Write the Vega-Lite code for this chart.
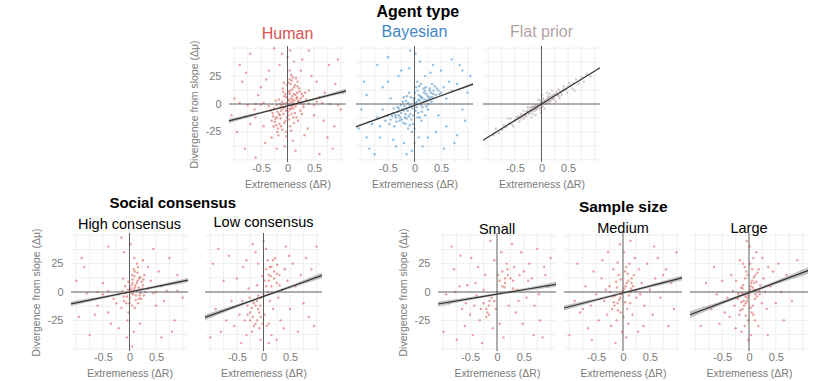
{
"$schema": "https://vega.github.io/schema/vega-lite/v6.json",
"padding": {"left": 31, "top": 3, "right": 5, "bottom": 0},
"background": "white",
"config": {
 "view": {"stroke": null},
 "font": "Liberation Sans",
 "title": {"font": "Liberation Sans", "fontSize": 16, "fontWeight": "bold", "color": "#000000", "anchor": "middle", "offset": 4},
 "axis": {"domain": false, "ticks": false, "tickSize": 0, "grid": false, "labelOverlap": false, "labelColor": "#7a7a7a", "labelFontSize": 11, "labelFont": "Liberation Sans", "titleColor": "#7a7a7a", "titleFontSize": 10.5, "titleFont": "Liberation Sans", "titleFontWeight": "normal", "titlePadding": 6},
 "axisX": {"labelPadding": 0},
 "axisY": {"labelPadding": 8}
},
"datasets": {
 "gx": [{"v":-1},{"v":-0.75},{"v":-0.5},{"v":-0.25},{"v":0.25},{"v":0.5},{"v":0.75},{"v":1}],
 "gy": [{"v":-50},{"v":-37.5},{"v":-25},{"v":-12.5},{"v":12.5},{"v":25},{"v":37.5},{"v":50}],
 "H": [{"x":-0.02,"y":1},{"x":-0.05,"y":-3},{"x":0.1,"y":4},{"x":0.15,"y":8},{"x":-0.12,"y":-6},{"x":0.05,"y":12},{"x":0.2,"y":2},{"x":-0.2,"y":-12},{"x":0.08,"y":-2},{"x":-0.02,"y":6},
 {"x":0.12,"y":15},{"x":-0.15,"y":-18},{"x":0.25,"y":5},{"x":-0.08,"y":-9},{"x":0.03,"y":-14},{"x":0.18,"y":10},{"x":-0.25,"y":-4},{"x":0.06,"y":18},{"x":-0.1,"y":2},{"x":0.3,"y":-3},
 {"x":-0.3,"y":-15},{"x":0.14,"y":-8},{"x":-0.04,"y":9},{"x":0.22,"y":14},{"x":-0.18,"y":-22},{"x":0.0,"y":-1},{"x":0.09,"y":7},{"x":-0.06,"y":-17},{"x":0.16,"y":0},{"x":-0.22,"y":3},
 {"x":0.04,"y":22},{"x":-0.14,"y":-10},{"x":0.27,"y":9},{"x":-0.03,"y":-25},{"x":0.11,"y":-12},{"x":-0.28,"y":-8},{"x":0.19,"y":20},{"x":-0.09,"y":14},{"x":0.01,"y":-7},{"x":0.35,"y":4},
 {"x":-0.35,"y":-2},{"x":0.07,"y":26},{"x":-0.17,"y":-28},{"x":0.24,"y":-6},{"x":-0.01,"y":17},{"x":0.13,"y":3},{"x":-0.24,"y":-16},{"x":0.05,"y":-20},{"x":0.2,"y":-15},{"x":-0.11,"y":-1},
 {"x":0.02,"y":3},{"x":0.06,"y":-4},{"x":-0.07,"y":0},{"x":0.1,"y":1},{"x":0.17,"y":5},{"x":-0.19,"y":-7},{"x":0.04,"y":9},{"x":-0.13,"y":-13},{"x":0.23,"y":11},{"x":0.08,"y":-9},
 {"x":0.01,"y":4},{"x":-0.03,"y":-6},{"x":0.07,"y":2},{"x":0.12,"y":9},{"x":-0.09,"y":-4},{"x":0.03,"y":11},{"x":0.18,"y":6},{"x":-0.16,"y":-9},{"x":0.05,"y":-5},{"x":-0.01,"y":-12},
 {"x":0.09,"y":13},{"x":-0.12,"y":-20},{"x":0.21,"y":3},{"x":-0.06,"y":7},{"x":0.02,"y":-10},{"x":0.14,"y":17},{"x":-0.2,"y":-1},{"x":0.08,"y":21},{"x":-0.04,"y":-15},{"x":0.26,"y":1},
 {"x":-0.27,"y":-11},{"x":0.11,"y":-4},{"x":-0.08,"y":11},{"x":0.19,"y":16},{"x":-0.21,"y":-19},{"x":0.03,"y":0},{"x":0.06,"y":5},{"x":-0.1,"y":-23},{"x":0.15,"y":-2},{"x":-0.16,"y":4},
 {"x":0.1,"y":24},{"x":-0.13,"y":-3},{"x":0.29,"y":7},{"x":-0.02,"y":-29},{"x":0.12,"y":-17},{"x":-0.23,"y":-13},{"x":0.16,"y":23},{"x":-0.07,"y":19},{"x":0.0,"y":-4},{"x":0.33,"y":10},
 {"x":-0.32,"y":-6},{"x":0.04,"y":30},{"x":-0.19,"y":-25},{"x":0.27,"y":-9},{"x":0.02,"y":19},{"x":0.1,"y":-1},{"x":-0.26,"y":-20},{"x":0.07,"y":-24},{"x":0.17,"y":-12},{"x":-0.14,"y":0},
 {"x":-0.6,"y":0},{"x":-0.45,"y":1},{"x":0.5,"y":-1},{"x":0.65,"y":1},{"x":-0.75,"y":-1},{"x":0.8,"y":0},{"x":0.4,"y":0.5},{"x":-0.5,"y":-0.5},{"x":0.55,"y":2},{"x":-0.9,"y":1},{"x":0.95,"y":-1},{"x":0.3,"y":-0.5},
 {"x":-0.45,"y":-20},{"x":0.4,"y":12},{"x":-0.55,"y":8},{"x":0.5,"y":-10},{"x":-0.4,"y":22},{"x":0.45,"y":25},{"x":-0.6,"y":-12},{"x":0.6,"y":6},{"x":-0.35,"y":30},{"x":0.38,"y":-22},
 {"x":-0.15,"y":35},{"x":0.12,"y":38},{"x":-0.05,"y":-38},{"x":0.1,"y":-33},{"x":0.0,"y":42},{"x":-0.2,"y":-40},{"x":0.25,"y":30},{"x":-0.3,"y":-30},{"x":0.32,"y":-28},{"x":-0.5,"y":15},
 {"x":0.7,"y":10},{"x":-0.7,"y":-18},{"x":0.15,"y":-42},{"x":-0.1,"y":45},{"x":0.05,"y":48},{"x":0.55,"y":20},{"x":-0.62,"y":-5},{"x":0.68,"y":-15},{"x":-0.42,"y":-35},{"x":0.28,"y":40},
 {"x":-0.95,"y":-25},{"x":0.9,"y":18},{"x":-0.85,"y":20},{"x":0.88,"y":-20},{"x":-1.0,"y":5},{"x":1.0,"y":-5},{"x":-0.8,"y":-40},{"x":0.78,"y":35},{"x":0.95,"y":40},{"x":-0.9,"y":35},
 {"x":0.85,"y":-40},{"x":-0.7,"y":45},{"x":0.6,"y":-45},{"x":-0.6,"y":-48},{"x":0.4,"y":48},{"x":-0.25,"y":50},{"x":1.05,"y":10},{"x":-1.05,"y":-10},{"x":0.75,"y":-30},{"x":-0.78,"y":28}],
 "B": [{"x":0.0,"y":0},{"x":0.05,"y":2},{"x":-0.05,"y":-2},{"x":0.1,"y":3},{"x":-0.1,"y":-3},{"x":0.15,"y":5},{"x":-0.15,"y":-4},{"x":0.2,"y":4},{"x":-0.2,"y":-6},{"x":0.25,"y":7},
 {"x":-0.25,"y":-8},{"x":0.3,"y":6},{"x":-0.3,"y":-10},{"x":0.12,"y":-1},{"x":-0.12,"y":1},{"x":0.08,"y":8},{"x":-0.08,"y":-9},{"x":0.18,"y":10},{"x":-0.18,"y":-12},{"x":0.35,"y":9},
 {"x":-0.35,"y":-12},{"x":0.02,"y":-6},{"x":-0.02,"y":5},{"x":0.22,"y":-2},{"x":-0.22,"y":2},{"x":0.28,"y":12},{"x":-0.28,"y":-15},{"x":0.06,"y":12},{"x":-0.06,"y":-14},{"x":0.4,"y":8},
 {"x":-0.4,"y":-8},{"x":0.14,"y":-7},{"x":-0.14,"y":7},{"x":0.32,"y":2},{"x":-0.32,"y":-3},{"x":0.03,"y":15},{"x":-0.03,"y":-18},{"x":0.45,"y":12},{"x":-0.45,"y":-14},{"x":0.1,"y":-12},
 {"x":-0.1,"y":10},{"x":0.26,"y":0},{"x":-0.26,"y":-1},{"x":0.17,"y":14},{"x":-0.17,"y":-18},{"x":0.5,"y":10},{"x":-0.5,"y":-10},{"x":0.0,"y":-22},{"x":0.05,"y":20},{"x":-0.38,"y":-20},
 {"x":0.38,"y":16},{"x":0.2,"y":-10},{"x":-0.2,"y":6},{"x":0.12,"y":18},{"x":-0.12,"y":-22},
 {"x":0.03,"y":1},{"x":-0.04,"y":-4},{"x":0.08,"y":4},{"x":-0.09,"y":-1},{"x":0.13,"y":6},{"x":-0.13,"y":-6},{"x":0.17,"y":2},{"x":-0.17,"y":-9},{"x":0.22,"y":9},{"x":-0.23,"y":-5},
 {"x":0.27,"y":5},{"x":-0.27,"y":-12},{"x":0.31,"y":10},{"x":-0.31,"y":-7},{"x":0.36,"y":12},{"x":-0.36,"y":-10},{"x":0.04,"y":-3},{"x":-0.01,"y":2},{"x":0.11,"y":7},{"x":-0.11,"y":-11},
 {"x":0.19,"y":12},{"x":-0.19,"y":-2},{"x":0.24,"y":3},{"x":-0.24,"y":-14},{"x":0.29,"y":14},{"x":-0.29,"y":-4},{"x":0.34,"y":6},{"x":-0.34,"y":-16},{"x":0.07,"y":-8},{"x":-0.07,"y":6},
 {"x":0.15,"y":-3},{"x":-0.15,"y":-13},{"x":0.21,"y":15},{"x":-0.21,"y":-17},{"x":0.42,"y":14},{"x":-0.42,"y":-11},{"x":0.47,"y":9},{"x":-0.47,"y":-18},{"x":0.01,"y":10},{"x":-0.02,"y":-10},
 {"x":0.09,"y":16},{"x":-0.09,"y":-19},{"x":0.25,"y":-5},{"x":-0.05,"y":-25},{"x":0.0,"y":5},{"x":0.06,"y":-12},{"x":-0.16,"y":3},{"x":0.33,"y":18},{"x":-0.39,"y":-4},{"x":0.13,"y":-15},
 {"x":0.55,"y":15},{"x":-0.55,"y":-15},{"x":0.6,"y":5},{"x":-0.6,"y":-5},{"x":0.65,"y":20},{"x":-0.65,"y":-20},{"x":0.7,"y":12},{"x":-0.7,"y":-12},{"x":0.8,"y":18},{"x":-0.8,"y":-18},
 {"x":0.0,"y":-35},{"x":-0.05,"y":-42},{"x":0.08,"y":-30},{"x":-0.1,"y":32},{"x":0.02,"y":45},{"x":-0.08,"y":48},{"x":0.1,"y":38},{"x":0.15,"y":-38},{"x":-0.15,"y":-45},{"x":0.3,"y":28},
 {"x":-0.3,"y":25},{"x":0.4,"y":-25},{"x":-0.4,"y":-32},{"x":0.5,"y":30},{"x":-0.5,"y":20},{"x":0.25,"y":-30},{"x":-0.2,"y":-35},{"x":0.45,"y":-10},{"x":-0.45,"y":5},{"x":0.6,"y":-20},
 {"x":-0.6,"y":15},{"x":0.35,"y":35},{"x":-0.35,"y":-38},{"x":0.2,"y":25},{"x":-0.25,"y":30},
 {"x":0.9,"y":30},{"x":-0.9,"y":-30},{"x":1.0,"y":10},{"x":-1.0,"y":-5},{"x":0.95,"y":-15},{"x":-0.95,"y":20},{"x":0.85,"y":35},{"x":-0.85,"y":-40},{"x":0.75,"y":-35},{"x":-0.7,"y":35},
 {"x":1.05,"y":25},{"x":-1.05,"y":-22},{"x":0.9,"y":-5},{"x":-0.9,"y":8},{"x":0.7,"y":40},{"x":-0.75,"y":-45},{"x":0.55,"y":-40},{"x":-0.5,"y":42},{"x":0.8,"y":-28},{"x":-0.65,"y":-30}],
 "F": [{"x":0.0,"y":1},{"x":0.05,"y":2},{"x":-0.05,"y":-3},{"x":0.1,"y":4},{"x":-0.1,"y":-2},{"x":0.15,"y":6},{"x":-0.15,"y":-5},{"x":0.2,"y":5},{"x":-0.2,"y":-7},{"x":0.25,"y":9},
 {"x":-0.25,"y":-6},{"x":0.3,"y":8},{"x":-0.3,"y":-10},{"x":0.02,"y":-2},{"x":-0.02,"y":3},{"x":0.08,"y":0},{"x":-0.08,"y":-1},{"x":0.12,"y":7},{"x":-0.13,"y":-6},{"x":0.18,"y":3},
 {"x":-0.18,"y":-3},{"x":0.22,"y":8},{"x":-0.23,"y":-9},{"x":0.28,"y":11},{"x":-0.27,"y":-7},{"x":0.35,"y":11},{"x":-0.36,"y":-12},{"x":0.4,"y":12},{"x":-0.4,"y":-14},{"x":0.45,"y":14},
 {"x":-0.44,"y":-11},{"x":0.5,"y":16},{"x":-0.51,"y":-15},{"x":0.55,"y":17},{"x":-0.56,"y":-18},{"x":0.6,"y":19},{"x":-0.61,"y":-17},{"x":0.03,"y":5},{"x":-0.03,"y":-5},{"x":0.06,"y":-4},
 {"x":-0.06,"y":4},{"x":0.14,"y":1},{"x":-0.12,"y":-1},{"x":0.16,"y":9},{"x":-0.16,"y":-9},{"x":0.24,"y":4},{"x":-0.21,"y":-3},{"x":0.32,"y":13},{"x":-0.33,"y":-13},{"x":0.38,"y":8},
 {"x":-0.39,"y":-9},{"x":0.42,"y":16},{"x":-0.42,"y":-16},{"x":0.48,"y":10},{"x":-0.47,"y":-12},{"x":0.52,"y":19},{"x":-0.53,"y":-20},{"x":0.58,"y":14},{"x":-0.58,"y":-13},{"x":0.65,"y":22},
 {"x":-0.66,"y":-21},{"x":0.7,"y":18},{"x":-0.71,"y":-19},{"x":0.75,"y":24},{"x":-0.74,"y":-23},{"x":0.8,"y":20},{"x":-0.8,"y":-26},{"x":0.85,"y":27},{"x":-0.86,"y":-22},{"x":0.92,"y":25},
 {"x":-0.9,"y":-28},{"x":0.11,"y":10},{"x":-0.11,"y":-10},{"x":0.27,"y":2},{"x":-0.26,"y":-3},{"x":0.01,"y":8},{"x":-0.01,"y":-8},{"x":0.2,"y":12},{"x":-0.19,"y":-12},{"x":0.34,"y":5},
 {"x":-0.34,"y":-6},{"x":0.62,"y":12},{"x":-0.63,"y":-13},
 {"x":0.04,"y":0},{"x":-0.04,"y":-1},{"x":0.07,"y":3},{"x":-0.07,"y":-3},{"x":0.09,"y":2},{"x":-0.09,"y":-4},{"x":0.13,"y":3},{"x":-0.14,"y":-3},{"x":0.17,"y":6},{"x":-0.17,"y":-6},
 {"x":0.19,"y":7},{"x":-0.2,"y":-5},{"x":0.23,"y":6},{"x":-0.24,"y":-8},{"x":0.26,"y":8},{"x":-0.28,"y":-7},{"x":0.31,"y":9},{"x":-0.31,"y":-9},{"x":0.36,"y":10},{"x":-0.37,"y":-10},
 {"x":0.0,"y":-3},{"x":0.02,"y":2},{"x":-0.02,"y":0},{"x":0.1,"y":1},{"x":-0.1,"y":-5},{"x":0.15,"y":3},{"x":-0.15,"y":-2},{"x":0.21,"y":5},{"x":-0.22,"y":-6},{"x":0.29,"y":9},
 {"x":-0.29,"y":-11},{"x":0.33,"y":7},{"x":-0.33,"y":-10},{"x":0.41,"y":13},{"x":-0.41,"y":-12},{"x":0.46,"y":13},{"x":-0.46,"y":-14},{"x":0.12,"y":5},{"x":-0.12,"y":-4},{"x":0.05,"y":3}],
 "HC": [{"x":0.02,"y":1},{"x":0.1,"y":4},{"x":0.15,"y":10},{"x":-0.05,"y":-4},{"x":0.2,"y":2},{"x":0.05,"y":15},{"x":-0.1,"y":-8},{"x":0.12,"y":-3},{"x":0.25,"y":6},{"x":0.08,"y":20},
 {"x":-0.15,"y":-14},{"x":0.18,"y":12},{"x":0.0,"y":-10},{"x":0.3,"y":0},{"x":-0.2,"y":-2},{"x":0.06,"y":8},{"x":0.22,"y":-6},{"x":-0.08,"y":5},{"x":0.14,"y":25},{"x":-0.02,"y":-18},
 {"x":0.1,"y":-14},{"x":0.28,"y":15},{"x":-0.25,"y":-10},{"x":0.04,"y":-1},{"x":0.16,"y":-10},{"x":-0.12,"y":12},{"x":0.35,"y":3},{"x":-0.3,"y":-6},{"x":0.09,"y":30},{"x":-0.04,"y":-25},
 {"x":0.03,"y":3},{"x":0.07,"y":-2},{"x":0.11,"y":6},{"x":0.13,"y":1},{"x":0.17,"y":4},{"x":0.19,"y":-3},{"x":0.23,"y":9},{"x":0.06,"y":11},{"x":0.01,"y":-5},{"x":-0.03,"y":2},
 {"x":0.09,"y":14},{"x":0.15,"y":17},{"x":-0.07,"y":-1},{"x":0.21,"y":-1},{"x":0.26,"y":11},{"x":0.04,"y":6},{"x":0.12,"y":-7},{"x":-0.11,"y":-4},{"x":0.16,"y":22},{"x":0.08,"y":2},
 {"x":-0.02,"y":9},{"x":0.24,"y":3},{"x":0.18,"y":-6},{"x":0.05,"y":-12},{"x":-0.06,"y":-10},{"x":0.1,"y":18},{"x":0.27,"y":-3},{"x":0.14,"y":8},{"x":0.2,"y":13},{"x":-0.13,"y":1},
 {"x":-0.6,"y":0},{"x":-0.4,"y":1},{"x":0.5,"y":0},{"x":0.7,"y":1},{"x":-0.8,"y":-1},{"x":0.9,"y":1},{"x":0.45,"y":-1},{"x":-0.5,"y":-2},
 {"x":-0.4,"y":-18},{"x":0.4,"y":10},{"x":-0.5,"y":8},{"x":0.5,"y":-12},{"x":0.35,"y":22},{"x":-0.35,"y":-28},{"x":0.6,"y":5},{"x":-0.6,"y":-12},{"x":0.02,"y":42},{"x":0.08,"y":-35},
 {"x":-0.1,"y":35},{"x":-0.05,"y":-40},{"x":0.2,"y":-28},{"x":0.25,"y":28},{"x":-0.2,"y":-32},{"x":0.55,"y":18},{"x":-0.65,"y":-20},{"x":0.65,"y":-8},
 {"x":-0.95,"y":-22},{"x":0.9,"y":15},{"x":-0.85,"y":22},{"x":0.85,"y":-25},{"x":1.0,"y":-5},{"x":-1.0,"y":10},{"x":0.75,"y":30},{"x":-0.75,"y":-38},{"x":0.6,"y":-40},{"x":-0.4,"y":40},
 {"x":0.45,"y":38},{"x":-0.15,"y":48},{"x":0.05,"y":-48},{"x":0.8,"y":-35},{"x":-0.9,"y":30}],
 "LC": [{"x":-0.1,"y":-15},{"x":-0.2,"y":-22},{"x":0.1,"y":10},{"x":0.2,"y":18},{"x":-0.05,"y":-5},{"x":0.05,"y":5},{"x":-0.3,"y":-12},{"x":0.25,"y":8},{"x":-0.15,"y":-28},{"x":0.15,"y":22},
 {"x":0.0,"y":-2},{"x":-0.25,"y":-18},{"x":0.3,"y":15},{"x":-0.35,"y":-25},{"x":0.12,"y":-8},{"x":-0.12,"y":6},{"x":0.08,"y":28},{"x":-0.08,"y":-32},{"x":0.35,"y":2},{"x":-0.4,"y":-8},
 {"x":0.4,"y":20},{"x":-0.18,"y":-10},{"x":0.18,"y":-15},{"x":-0.02,"y":14},{"x":0.02,"y":-20},{"x":0.22,"y":30},{"x":-0.22,"y":-35},{"x":0.28,"y":-5},{"x":-0.28,"y":3},{"x":0.1,"y":-28},
 {"x":-0.1,"y":25},{"x":0.45,"y":10},{"x":-0.45,"y":-20},{"x":0.5,"y":-15},{"x":-0.5,"y":12},{"x":0.05,"y":38},{"x":-0.05,"y":-42},{"x":0.15,"y":-38},{"x":-0.15,"y":35},{"x":0.32,"y":-25},
 {"x":-0.32,"y":28},{"x":0.55,"y":25},{"x":-0.55,"y":-30},{"x":0.6,"y":5},{"x":-0.6,"y":-8},{"x":0.0,"y":45},{"x":0.1,"y":-45},{"x":-0.2,"y":42},{"x":0.25,"y":-42},{"x":0.7,"y":15},
 {"x":-0.7,"y":-25},{"x":0.75,"y":-10},{"x":-0.75,"y":10},{"x":0.8,"y":30},{"x":-0.8,"y":-35},{"x":0.9,"y":20},{"x":-0.9,"y":-15},{"x":0.95,"y":-30},{"x":-0.95,"y":25},{"x":1.0,"y":40},
 {"x":-1.0,"y":-40},{"x":0.85,"y":-22},{"x":-0.85,"y":38},{"x":0.65,"y":-35},{"x":-0.65,"y":32},{"x":0.42,"y":40},{"x":-0.42,"y":-45},{"x":0.38,"y":-32},{"x":-0.38,"y":22},{"x":0.48,"y":32},
 {"x":-0.12,"y":-25},{"x":0.14,"y":14},{"x":-0.06,"y":-12},{"x":0.06,"y":-30},{"x":-0.26,"y":-5},{"x":0.26,"y":24},{"x":0.02,"y":10},{"x":-0.32,"y":-38},
 {"x":-0.15,"y":-12},{"x":-0.2,"y":-8},{"x":-0.08,"y":-18},{"x":-0.25,"y":-25},{"x":-0.1,"y":-3},{"x":0.1,"y":15},{"x":0.15,"y":5},{"x":0.2,"y":12},{"x":0.05,"y":20},{"x":-0.3,"y":-20},
 {"x":-0.05,"y":-22},{"x":0.18,"y":28},{"x":0.08,"y":0},{"x":-0.18,"y":-30},{"x":0.25,"y":16},{"x":-0.12,"y":-8},{"x":0.12,"y":22},{"x":-0.22,"y":-14},{"x":0.3,"y":6},{"x":-0.02,"y":-28}],
 "S": [{"x":-0.9,"y":-10},{"x":0.9,"y":15},{"x":-0.7,"y":5},{"x":0.7,"y":-12},{"x":-0.5,"y":-20},{"x":0.5,"y":18},{"x":-0.3,"y":-15},{"x":0.3,"y":10},{"x":-0.2,"y":-22},{"x":0.2,"y":20},
 {"x":-0.1,"y":-5},{"x":0.1,"y":5},{"x":0.0,"y":0},{"x":-0.4,"y":8},{"x":0.4,"y":-8},{"x":-0.6,"y":-30},{"x":0.6,"y":25},{"x":-0.8,"y":20},{"x":0.8,"y":-25},{"x":-1.0,"y":-35},
 {"x":1.0,"y":30},{"x":0.15,"y":12},{"x":-0.15,"y":-12},{"x":0.25,"y":0},{"x":-0.25,"y":2},{"x":0.05,"y":-28},{"x":-0.05,"y":28},{"x":0.35,"y":-18},{"x":-0.35,"y":22},{"x":0.45,"y":35},
 {"x":-0.45,"y":-38},{"x":0.55,"y":-5},{"x":-0.55,"y":6},{"x":0.65,"y":12},{"x":-0.65,"y":-15},{"x":0.75,"y":38},{"x":-0.75,"y":-42},{"x":0.85,"y":-40},{"x":-0.85,"y":40},{"x":0.95,"y":5},
 {"x":-0.95,"y":-2},{"x":0.18,"y":25},{"x":-0.18,"y":-18},{"x":0.22,"y":-12},{"x":-0.22,"y":15},{"x":0.12,"y":-40},{"x":-0.12,"y":45},{"x":0.28,"y":42},{"x":-0.28,"y":-45},{"x":0.38,"y":2},
 {"x":-0.38,"y":-3},{"x":0.02,"y":15},{"x":-0.02,"y":-15},{"x":0.08,"y":35},{"x":-0.08,"y":-32},{"x":0.48,"y":-28},{"x":-0.48,"y":30},{"x":0.58,"y":10},{"x":-0.58,"y":-10},{"x":0.68,"y":-38},
 {"x":-0.68,"y":32},{"x":0.32,"y":22},{"x":-0.32,"y":-25},{"x":0.14,"y":4},{"x":-0.14,"y":-8},{"x":0.42,"y":15},{"x":-0.42,"y":-12},{"x":0.78,"y":-2},{"x":-0.78,"y":0},{"x":0.88,"y":22},
 {"x":0.15,"y":8},{"x":0.2,"y":15},{"x":0.1,"y":18},{"x":-0.2,"y":-15},{"x":-0.15,"y":-20},{"x":-0.25,"y":-10},{"x":0.25,"y":12},{"x":0.05,"y":10},{"x":-0.05,"y":-8},{"x":0.3,"y":3}],
 "M": [{"x":0.0,"y":0},{"x":0.05,"y":5},{"x":-0.05,"y":-5},{"x":0.1,"y":10},{"x":-0.1,"y":-10},{"x":0.15,"y":3},{"x":-0.15,"y":-3},{"x":0.2,"y":15},{"x":-0.2,"y":-15},{"x":0.25,"y":-5},
 {"x":-0.25,"y":5},{"x":0.3,"y":20},{"x":-0.3,"y":-20},{"x":0.08,"y":-15},{"x":-0.08,"y":15},{"x":0.12,"y":25},{"x":-0.12,"y":-25},{"x":0.18,"y":-20},{"x":-0.18,"y":20},{"x":0.35,"y":8},
 {"x":-0.35,"y":-8},{"x":0.4,"y":-12},{"x":-0.4,"y":12},{"x":0.02,"y":35},{"x":-0.02,"y":-35},{"x":0.06,"y":-40},{"x":-0.06,"y":42},{"x":0.22,"y":30},{"x":-0.22,"y":-30},{"x":0.45,"y":25},
 {"x":-0.45,"y":-25},{"x":0.5,"y":2},{"x":-0.5,"y":-2},{"x":0.55,"y":-20},{"x":-0.55,"y":18},{"x":0.6,"y":12},{"x":-0.6,"y":-12},{"x":0.65,"y":30},{"x":-0.65,"y":-32},{"x":0.7,"y":-5},
 {"x":-0.7,"y":5},{"x":0.8,"y":20},{"x":-0.8,"y":-18},{"x":0.85,"y":-30},{"x":-0.85,"y":25},{"x":0.9,"y":8},{"x":-0.9,"y":-8},{"x":1.0,"y":35},{"x":-1.0,"y":-38},{"x":0.28,"y":-35},
 {"x":-0.28,"y":35},{"x":0.14,"y":45},{"x":-0.14,"y":-45},{"x":0.38,"y":-30},{"x":-0.38,"y":28},{"x":0.04,"y":18},{"x":-0.04,"y":-18},{"x":0.16,"y":8},{"x":-0.16,"y":-12},{"x":0.24,"y":1},
 {"x":-0.24,"y":0},{"x":0.32,"y":-2},{"x":-0.32,"y":2},{"x":0.1,"y":-28},{"x":-0.1,"y":26},{"x":0.75,"y":15},{"x":-0.75,"y":-15},{"x":0.58,"y":40},{"x":-0.58,"y":-42},{"x":0.95,"y":-15},
 {"x":0.02,"y":3},{"x":-0.03,"y":-2},{"x":0.07,"y":8},{"x":-0.07,"y":-7},{"x":0.11,"y":-3},{"x":-0.11,"y":4},{"x":0.16,"y":12},{"x":-0.17,"y":-9},{"x":0.04,"y":-9},{"x":-0.04,"y":11},
 {"x":0.13,"y":-10},{"x":-0.13,"y":9},{"x":0.09,"y":16},{"x":-0.09,"y":-16},{"x":0.19,"y":5},{"x":-0.19,"y":-4},{"x":0.01,"y":-22},{"x":0.06,"y":22},{"x":0.14,"y":0},{"x":-0.01,"y":1}],
 "L": [{"x":0.0,"y":0},{"x":0.03,"y":5},{"x":-0.03,"y":-5},{"x":0.06,"y":10},{"x":-0.06,"y":-10},{"x":0.09,"y":2},{"x":-0.09,"y":-2},{"x":0.12,"y":15},{"x":-0.12,"y":-15},{"x":0.15,"y":-4},
 {"x":-0.15,"y":4},{"x":0.18,"y":20},{"x":-0.18,"y":-20},{"x":0.21,"y":6},{"x":-0.21,"y":-6},{"x":0.24,"y":-10},{"x":-0.24,"y":10},{"x":0.02,"y":25},{"x":-0.02,"y":-25},{"x":0.05,"y":-18},
 {"x":-0.05,"y":18},{"x":0.08,"y":30},{"x":-0.08,"y":-30},{"x":0.11,"y":-25},{"x":-0.11,"y":25},{"x":0.14,"y":35},{"x":-0.14,"y":-35},{"x":0.17,"y":-30},{"x":-0.17,"y":28},{"x":0.27,"y":12},
 {"x":-0.27,"y":-12},{"x":0.3,"y":0},{"x":-0.3,"y":1},{"x":0.33,"y":-15},{"x":-0.33,"y":15},{"x":0.36,"y":22},{"x":-0.36,"y":-22},{"x":0.01,"y":40},{"x":-0.01,"y":-42},{"x":0.04,"y":-38},
 {"x":-0.04,"y":45},{"x":0.4,"y":5},{"x":-0.4,"y":-5},{"x":0.45,"y":18},{"x":-0.45,"y":-18},{"x":0.5,"y":-10},{"x":-0.5,"y":10},{"x":0.55,"y":25},{"x":-0.55,"y":-28},{"x":0.6,"y":0},
 {"x":-0.6,"y":-2},{"x":0.7,"y":15},{"x":-0.7,"y":-15},{"x":0.8,"y":-8},{"x":-0.8,"y":8},{"x":0.9,"y":28},{"x":-0.9,"y":-30},{"x":0.1,"y":8},{"x":-0.1,"y":-8},{"x":0.07,"y":-12},
 {"x":-0.07,"y":12},{"x":0.2,"y":-2},{"x":-0.2,"y":-1},{"x":0.13,"y":1},{"x":-0.13,"y":-1},{"x":0.25,"y":30},{"x":-0.25,"y":-32},{"x":0.65,"y":-25},{"x":-0.65,"y":22},{"x":0.35,"y":-38},
 {"x":0.02,"y":2},{"x":-0.02,"y":-3},{"x":0.04,"y":8},{"x":-0.04,"y":-8},{"x":0.07,"y":4},{"x":-0.07,"y":-4},{"x":0.09,"y":13},{"x":-0.09,"y":-12},{"x":0.11,"y":-6},{"x":-0.11,"y":6},
 {"x":0.14,"y":9},{"x":-0.14,"y":-9},{"x":0.16,"y":17},{"x":-0.16,"y":-16},{"x":0.03,"y":-14},{"x":-0.03,"y":15},{"x":0.06,"y":20},{"x":-0.06,"y":-21},{"x":0.12,"y":-2},{"x":-0.12,"y":3},
 {"x":0.19,"y":1},{"x":-0.19,"y":-3},{"x":0.01,"y":-1},{"x":0.08,"y":-20},{"x":-0.08,"y":22}],
 "fit": [
 {"p":"H","x":-1.1,"y":-15.2,"lo":-17.0,"hi":-13.4},{"p":"H","x":-0.55,"y":-8.5,"lo":-9.5,"hi":-7.5},{"p":"H","x":0,"y":-1.7,"lo":-2.3,"hi":-1.1},{"p":"H","x":0.55,"y":5.1,"lo":4.1,"hi":6.1},{"p":"H","x":1.1,"y":11.8,"lo":10.0,"hi":13.6},
 {"p":"B","x":-1.1,"y":-20.4,"lo":-21.6,"hi":-19.2},{"p":"B","x":-0.55,"y":-10.9,"lo":-11.6,"hi":-10.2},{"p":"B","x":0,"y":-1.3,"lo":-1.7,"hi":-0.9},{"p":"B","x":0.55,"y":8.3,"lo":7.6,"hi":9.0},{"p":"B","x":1.1,"y":17.8,"lo":16.6,"hi":19.0},
 {"p":"F","x":-1.1,"y":-32.6,"lo":-33.1,"hi":-32.1},{"p":"F","x":0,"y":0,"lo":-0.3,"hi":0.3},{"p":"F","x":1.1,"y":32.6,"lo":32.1,"hi":33.1},
 {"p":"HC","x":-1.1,"y":-10.4,"lo":-12.4,"hi":-8.4},{"p":"HC","x":-0.55,"y":-5.2,"lo":-6.4,"hi":-4.0},{"p":"HC","x":0,"y":0,"lo":-0.8,"hi":0.8},{"p":"HC","x":0.55,"y":5.2,"lo":4.0,"hi":6.4},{"p":"HC","x":1.1,"y":10.4,"lo":8.4,"hi":12.4},
 {"p":"LC","x":-1.1,"y":-22.4,"lo":-24.9,"hi":-19.9},{"p":"LC","x":-0.55,"y":-13.1,"lo":-14.5,"hi":-11.7},{"p":"LC","x":0,"y":-3.9,"lo":-4.8,"hi":-3.0},{"p":"LC","x":0.55,"y":5.3,"lo":3.9,"hi":6.7},{"p":"LC","x":1.1,"y":14.6,"lo":12.1,"hi":17.1},
 {"p":"S","x":-1.1,"y":-10.6,"lo":-12.8,"hi":-8.4},{"p":"S","x":-0.55,"y":-6.2,"lo":-7.5,"hi":-4.9},{"p":"S","x":0,"y":-1.9,"lo":-2.8,"hi":-1.0},{"p":"S","x":0.55,"y":2.4,"lo":1.1,"hi":3.7},{"p":"S","x":1.1,"y":6.8,"lo":4.6,"hi":9.0},
 {"p":"M","x":-1.1,"y":-14.1,"lo":-16.3,"hi":-11.9},{"p":"M","x":-0.55,"y":-7.5,"lo":-8.8,"hi":-6.2},{"p":"M","x":0,"y":-0.85,"lo":-1.75,"hi":0.05},{"p":"M","x":0.55,"y":5.8,"lo":4.5,"hi":7.1},{"p":"M","x":1.1,"y":12.4,"lo":10.2,"hi":14.6},
 {"p":"L","x":-1.1,"y":-20.0,"lo":-23.0,"hi":-17.0},{"p":"L","x":-0.55,"y":-10.3,"lo":-12.0,"hi":-8.6},{"p":"L","x":0,"y":-0.6,"lo":-1.6,"hi":0.4},{"p":"L","x":0.55,"y":9.1,"lo":7.4,"hi":10.8},{"p":"L","x":1.1,"y":18.8,"lo":15.8,"hi":21.8}
 ]
},
"spacing": 6,
"vconcat": [
 {"spacing": 12, "hconcat": [
  {"width": 106, "height": 10, "data": {"values": []}, "mark": "point"},
  {"title": {"text": "Agent type", "anchor": "middle", "fontSize": 16, "fontWeight": "bold", "dx": 22}, "spacing": 4, "hconcat": [
   {"width": 117, "height": 116, "title": {"text": "Human", "color": "#d9534f", "fontSize": 16, "fontWeight": "normal", "frame": "group", "dy": 6},
    "layer": [
     {"data": {"name": "gx"}, "mark": {"type": "rule", "color": "#ebebeb", "strokeWidth": 0.8}, "encoding": {"x": {"field": "v", "type": "quantitative"}}},
     {"data": {"name": "gy"}, "mark": {"type": "rule", "color": "#ebebeb", "strokeWidth": 0.8}, "encoding": {"y": {"field": "v", "type": "quantitative"}}},
     {"data": {"name": "H"}, "mark": {"type": "circle", "size": 6, "opacity": 0.55, "color": "#d9534f"},
      "encoding": {
       "x": {"field": "x", "type": "quantitative", "scale": {"domain": [-1.1, 1.1], "nice": false, "zero": false}, "axis": {"values": [-0.5, 0, 0.5], "labelExpr": "''+datum.value", "title": "Extremeness (ΔR)"}},
       "y": {"field": "y", "type": "quantitative", "scale": {"domain": [-52, 52], "nice": false, "zero": false}, "axis": {"values": [-25, 0, 25], "labelExpr": "''+datum.value", "title": "Divergence from slope (Δμ)"}}}},
     {"data": {"values": [{}]}, "mark": {"type": "rule", "color": "#5e5e5e", "strokeWidth": 1}, "encoding": {"x": {"datum": 0}}},
     {"data": {"values": [{}]}, "mark": {"type": "rule", "color": "#5e5e5e", "strokeWidth": 1}, "encoding": {"y": {"datum": 0}}},
     {"data": {"name": "fit"}, "transform": [{"filter": "datum.p=='H'"}], "mark": {"type": "area", "color": "#8c8c8c", "opacity": 0.5}, "encoding": {"x": {"field": "x", "type": "quantitative"}, "y": {"field": "lo", "type": "quantitative"}, "y2": {"field": "hi"}}},
     {"data": {"name": "fit"}, "transform": [{"filter": "datum.p=='H'"}], "mark": {"type": "line", "color": "#333333", "strokeWidth": 1.2}, "encoding": {"x": {"field": "x", "type": "quantitative"}, "y": {"field": "y", "type": "quantitative"}}}
    ]},
   {"width": 117, "height": 116, "title": {"text": "Bayesian", "color": "#3f88c5", "fontSize": 16, "fontWeight": "normal", "frame": "group", "dy": -2},
    "layer": [
     {"data": {"name": "gx"}, "mark": {"type": "rule", "color": "#ebebeb", "strokeWidth": 0.8}, "encoding": {"x": {"field": "v", "type": "quantitative"}}},
     {"data": {"name": "gy"}, "mark": {"type": "rule", "color": "#ebebeb", "strokeWidth": 0.8}, "encoding": {"y": {"field": "v", "type": "quantitative"}}},
     {"data": {"name": "B"}, "mark": {"type": "circle", "size": 6, "opacity": 0.55, "color": "#3f88c5"},
      "encoding": {
       "x": {"field": "x", "type": "quantitative", "scale": {"domain": [-1.1, 1.1], "nice": false, "zero": false}, "axis": {"values": [-0.5, 0, 0.5], "labelExpr": "''+datum.value", "title": "Extremeness (ΔR)"}},
       "y": {"field": "y", "type": "quantitative", "scale": {"domain": [-52, 52], "nice": false, "zero": false}, "axis": {"values": [-25, 0, 25], "labels": false, "title": null}}}},
     {"data": {"values": [{}]}, "mark": {"type": "rule", "color": "#5e5e5e", "strokeWidth": 1}, "encoding": {"x": {"datum": 0}}},
     {"data": {"values": [{}]}, "mark": {"type": "rule", "color": "#5e5e5e", "strokeWidth": 1}, "encoding": {"y": {"datum": 0}}},
     {"data": {"name": "fit"}, "transform": [{"filter": "datum.p=='B'"}], "mark": {"type": "area", "color": "#8c8c8c", "opacity": 0.5}, "encoding": {"x": {"field": "x", "type": "quantitative"}, "y": {"field": "lo", "type": "quantitative"}, "y2": {"field": "hi"}}},
     {"data": {"name": "fit"}, "transform": [{"filter": "datum.p=='B'"}], "mark": {"type": "line", "color": "#333333", "strokeWidth": 1.2}, "encoding": {"x": {"field": "x", "type": "quantitative"}, "y": {"field": "y", "type": "quantitative"}}}
    ]},
   {"width": 117, "height": 116, "title": {"text": "Flat prior", "color": "#b3a3a3", "fontSize": 16, "fontWeight": "normal", "frame": "group", "dy": -2},
    "layer": [
     {"data": {"name": "gx"}, "mark": {"type": "rule", "color": "#ebebeb", "strokeWidth": 0.8}, "encoding": {"x": {"field": "v", "type": "quantitative"}}},
     {"data": {"name": "gy"}, "mark": {"type": "rule", "color": "#ebebeb", "strokeWidth": 0.8}, "encoding": {"y": {"field": "v", "type": "quantitative"}}},
     {"data": {"name": "F"}, "mark": {"type": "circle", "size": 6, "opacity": 0.55, "color": "#b3a3a3"},
      "encoding": {
       "x": {"field": "x", "type": "quantitative", "scale": {"domain": [-1.1, 1.1], "nice": false, "zero": false}, "axis": {"values": [-0.5, 0, 0.5], "labelExpr": "''+datum.value", "title": "Extremeness (ΔR)"}},
       "y": {"field": "y", "type": "quantitative", "scale": {"domain": [-52, 52], "nice": false, "zero": false}, "axis": {"values": [-25, 0, 25], "labels": false, "title": null}}}},
     {"data": {"values": [{}]}, "mark": {"type": "rule", "color": "#5e5e5e", "strokeWidth": 1}, "encoding": {"x": {"datum": 0}}},
     {"data": {"values": [{}]}, "mark": {"type": "rule", "color": "#5e5e5e", "strokeWidth": 1}, "encoding": {"y": {"datum": 0}}},
     {"data": {"name": "fit"}, "transform": [{"filter": "datum.p=='F'"}], "mark": {"type": "line", "color": "#333333", "strokeWidth": 1.2}, "encoding": {"x": {"field": "x", "type": "quantitative"}, "y": {"field": "y", "type": "quantitative"}}}
    ]}
  ]}
 ]},
 {"spacing": 73, "hconcat": [
  {"title": {"text": "Social consensus", "anchor": "middle", "fontSize": 15, "fontWeight": "bold", "dx": -5}, "spacing": 11, "hconcat": [
   {"width": 117, "height": 118, "title": {"text": "High consensus", "color": "#000000", "fontSize": 14.5, "fontWeight": "normal", "frame": "group", "dy": 9},
    "layer": [
     {"data": {"name": "gx"}, "mark": {"type": "rule", "color": "#ebebeb", "strokeWidth": 0.8}, "encoding": {"x": {"field": "v", "type": "quantitative"}}},
     {"data": {"name": "gy"}, "mark": {"type": "rule", "color": "#ebebeb", "strokeWidth": 0.8}, "encoding": {"y": {"field": "v", "type": "quantitative"}}},
     {"data": {"name": "HC"}, "mark": {"type": "circle", "size": 6, "opacity": 0.55, "color": "#d9534f"},
      "encoding": {
       "x": {"field": "x", "type": "quantitative", "scale": {"domain": [-1.1, 1.1], "nice": false, "zero": false}, "axis": {"values": [-0.5, 0, 0.5], "labelExpr": "''+datum.value", "title": "Extremeness (ΔR)"}},
       "y": {"field": "y", "type": "quantitative", "scale": {"domain": [-52, 52], "nice": false, "zero": false}, "axis": {"values": [-25, 0, 25], "labelExpr": "''+datum.value", "title": "Divergence from slope (Δμ)"}}}},
     {"data": {"values": [{}]}, "mark": {"type": "rule", "color": "#5e5e5e", "strokeWidth": 1}, "encoding": {"x": {"datum": 0}}},
     {"data": {"values": [{}]}, "mark": {"type": "rule", "color": "#5e5e5e", "strokeWidth": 1}, "encoding": {"y": {"datum": 0}}},
     {"data": {"name": "fit"}, "transform": [{"filter": "datum.p=='HC'"}], "mark": {"type": "area", "color": "#8c8c8c", "opacity": 0.5}, "encoding": {"x": {"field": "x", "type": "quantitative"}, "y": {"field": "lo", "type": "quantitative"}, "y2": {"field": "hi"}}},
     {"data": {"name": "fit"}, "transform": [{"filter": "datum.p=='HC'"}], "mark": {"type": "line", "color": "#333333", "strokeWidth": 1.2}, "encoding": {"x": {"field": "x", "type": "quantitative"}, "y": {"field": "y", "type": "quantitative"}}}
    ]},
   {"width": 117, "height": 118, "title": {"text": "Low consensus", "color": "#000000", "fontSize": 14.5, "fontWeight": "normal", "frame": "group", "dy": 2},
    "layer": [
     {"data": {"name": "gx"}, "mark": {"type": "rule", "color": "#ebebeb", "strokeWidth": 0.8}, "encoding": {"x": {"field": "v", "type": "quantitative"}}},
     {"data": {"name": "gy"}, "mark": {"type": "rule", "color": "#ebebeb", "strokeWidth": 0.8}, "encoding": {"y": {"field": "v", "type": "quantitative"}}},
     {"data": {"name": "LC"}, "mark": {"type": "circle", "size": 6, "opacity": 0.55, "color": "#d9534f"},
      "encoding": {
       "x": {"field": "x", "type": "quantitative", "scale": {"domain": [-1.1, 1.1], "nice": false, "zero": false}, "axis": {"values": [-0.5, 0, 0.5], "labelExpr": "''+datum.value", "title": "Extremeness (ΔR)"}},
       "y": {"field": "y", "type": "quantitative", "scale": {"domain": [-52, 52], "nice": false, "zero": false}, "axis": {"values": [-25, 0, 25], "labels": false, "title": null}}}},
     {"data": {"values": [{}]}, "mark": {"type": "rule", "color": "#5e5e5e", "strokeWidth": 1}, "encoding": {"x": {"datum": 0}}},
     {"data": {"values": [{}]}, "mark": {"type": "rule", "color": "#5e5e5e", "strokeWidth": 1}, "encoding": {"y": {"datum": 0}}},
     {"data": {"name": "fit"}, "transform": [{"filter": "datum.p=='LC'"}], "mark": {"type": "area", "color": "#8c8c8c", "opacity": 0.5}, "encoding": {"x": {"field": "x", "type": "quantitative"}, "y": {"field": "lo", "type": "quantitative"}, "y2": {"field": "hi"}}},
     {"data": {"name": "fit"}, "transform": [{"filter": "datum.p=='LC'"}], "mark": {"type": "line", "color": "#333333", "strokeWidth": 1.2}, "encoding": {"x": {"field": "x", "type": "quantitative"}, "y": {"field": "y", "type": "quantitative"}}}
    ]}
  ]},
  {"title": {"text": "Sample size", "anchor": "middle", "fontSize": 15.5, "fontWeight": "bold", "dy": -2, "dx": 19}, "spacing": 2, "hconcat": [
   {"width": 118, "height": 118, "title": {"text": "Small", "color": "#000000", "fontSize": 14.5, "fontWeight": "normal", "frame": "group", "dy": 14},
    "layer": [
     {"data": {"name": "gx"}, "mark": {"type": "rule", "color": "#ebebeb", "strokeWidth": 0.8}, "encoding": {"x": {"field": "v", "type": "quantitative"}}},
     {"data": {"name": "gy"}, "mark": {"type": "rule", "color": "#ebebeb", "strokeWidth": 0.8}, "encoding": {"y": {"field": "v", "type": "quantitative"}}},
     {"data": {"name": "S"}, "mark": {"type": "circle", "size": 6, "opacity": 0.55, "color": "#d9534f"},
      "encoding": {
       "x": {"field": "x", "type": "quantitative", "scale": {"domain": [-1.1, 1.1], "nice": false, "zero": false}, "axis": {"values": [-0.5, 0, 0.5], "labelExpr": "''+datum.value", "title": "Extremeness (ΔR)"}},
       "y": {"field": "y", "type": "quantitative", "scale": {"domain": [-52, 52], "nice": false, "zero": false}, "axis": {"values": [-25, 0, 25], "labelExpr": "''+datum.value", "title": "Divergence from slope (Δμ)"}}}},
     {"data": {"values": [{}]}, "mark": {"type": "rule", "color": "#5e5e5e", "strokeWidth": 1}, "encoding": {"x": {"datum": 0}}},
     {"data": {"values": [{}]}, "mark": {"type": "rule", "color": "#5e5e5e", "strokeWidth": 1}, "encoding": {"y": {"datum": 0}}},
     {"data": {"name": "fit"}, "transform": [{"filter": "datum.p=='S'"}], "mark": {"type": "area", "color": "#8c8c8c", "opacity": 0.5}, "encoding": {"x": {"field": "x", "type": "quantitative"}, "y": {"field": "lo", "type": "quantitative"}, "y2": {"field": "hi"}}},
     {"data": {"name": "fit"}, "transform": [{"filter": "datum.p=='S'"}], "mark": {"type": "line", "color": "#333333", "strokeWidth": 1.2}, "encoding": {"x": {"field": "x", "type": "quantitative"}, "y": {"field": "y", "type": "quantitative"}}}
    ]},
   {"width": 118, "height": 118, "title": {"text": "Medium", "color": "#000000", "fontSize": 14.5, "fontWeight": "normal", "frame": "group", "dy": 8},
    "layer": [
     {"data": {"name": "gx"}, "mark": {"type": "rule", "color": "#ebebeb", "strokeWidth": 0.8}, "encoding": {"x": {"field": "v", "type": "quantitative"}}},
     {"data": {"name": "gy"}, "mark": {"type": "rule", "color": "#ebebeb", "strokeWidth": 0.8}, "encoding": {"y": {"field": "v", "type": "quantitative"}}},
     {"data": {"name": "M"}, "mark": {"type": "circle", "size": 6, "opacity": 0.55, "color": "#d9534f"},
      "encoding": {
       "x": {"field": "x", "type": "quantitative", "scale": {"domain": [-1.1, 1.1], "nice": false, "zero": false}, "axis": {"values": [-0.5, 0, 0.5], "labelExpr": "''+datum.value", "title": "Extremeness (ΔR)"}},
       "y": {"field": "y", "type": "quantitative", "scale": {"domain": [-52, 52], "nice": false, "zero": false}, "axis": {"values": [-25, 0, 25], "labels": false, "title": null}}}},
     {"data": {"values": [{}]}, "mark": {"type": "rule", "color": "#5e5e5e", "strokeWidth": 1}, "encoding": {"x": {"datum": 0}}},
     {"data": {"values": [{}]}, "mark": {"type": "rule", "color": "#5e5e5e", "strokeWidth": 1}, "encoding": {"y": {"datum": 0}}},
     {"data": {"name": "fit"}, "transform": [{"filter": "datum.p=='M'"}], "mark": {"type": "area", "color": "#8c8c8c", "opacity": 0.5}, "encoding": {"x": {"field": "x", "type": "quantitative"}, "y": {"field": "lo", "type": "quantitative"}, "y2": {"field": "hi"}}},
     {"data": {"name": "fit"}, "transform": [{"filter": "datum.p=='M'"}], "mark": {"type": "line", "color": "#333333", "strokeWidth": 1.2}, "encoding": {"x": {"field": "x", "type": "quantitative"}, "y": {"field": "y", "type": "quantitative"}}}
    ]},
   {"width": 118, "height": 118, "title": {"text": "Large", "color": "#000000", "fontSize": 14.5, "fontWeight": "normal", "frame": "group", "dy": 8},
    "layer": [
     {"data": {"name": "gx"}, "mark": {"type": "rule", "color": "#ebebeb", "strokeWidth": 0.8}, "encoding": {"x": {"field": "v", "type": "quantitative"}}},
     {"data": {"name": "gy"}, "mark": {"type": "rule", "color": "#ebebeb", "strokeWidth": 0.8}, "encoding": {"y": {"field": "v", "type": "quantitative"}}},
     {"data": {"name": "L"}, "mark": {"type": "circle", "size": 6, "opacity": 0.55, "color": "#d9534f"},
      "encoding": {
       "x": {"field": "x", "type": "quantitative", "scale": {"domain": [-1.1, 1.1], "nice": false, "zero": false}, "axis": {"values": [-0.5, 0, 0.5], "labelExpr": "''+datum.value", "title": "Extremeness (ΔR)"}},
       "y": {"field": "y", "type": "quantitative", "scale": {"domain": [-52, 52], "nice": false, "zero": false}, "axis": {"values": [-25, 0, 25], "labels": false, "title": null}}}},
     {"data": {"values": [{}]}, "mark": {"type": "rule", "color": "#5e5e5e", "strokeWidth": 1}, "encoding": {"x": {"datum": 0}}},
     {"data": {"values": [{}]}, "mark": {"type": "rule", "color": "#5e5e5e", "strokeWidth": 1}, "encoding": {"y": {"datum": 0}}},
     {"data": {"name": "fit"}, "transform": [{"filter": "datum.p=='L'"}], "mark": {"type": "area", "color": "#8c8c8c", "opacity": 0.5}, "encoding": {"x": {"field": "x", "type": "quantitative"}, "y": {"field": "lo", "type": "quantitative"}, "y2": {"field": "hi"}}},
     {"data": {"name": "fit"}, "transform": [{"filter": "datum.p=='L'"}], "mark": {"type": "line", "color": "#333333", "strokeWidth": 1.2}, "encoding": {"x": {"field": "x", "type": "quantitative"}, "y": {"field": "y", "type": "quantitative"}}}
    ]}
  ]}
 ]}
]
}
